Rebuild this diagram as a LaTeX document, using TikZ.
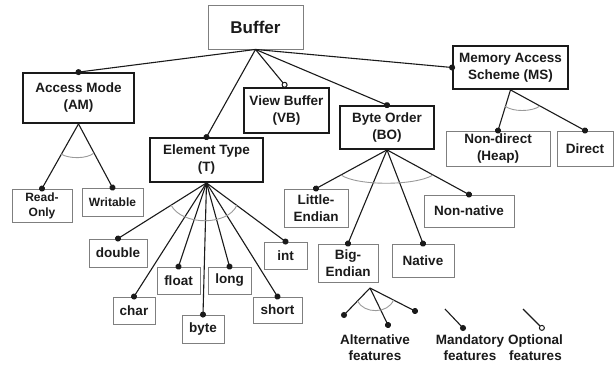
\documentclass[tikz,border=0pt]{standalone}
\usepackage{fontspec}
\setmainfont{Liberation Sans}
\usetikzlibrary{arrows.meta}
\definecolor{trait}{HTML}{1A1A1A}
\definecolor{gristrait}{HTML}{7F7F7F}
\definecolor{arctrait}{HTML}{9A9A9A}

\begin{document}
\begin{tikzpicture}[x=1pt,y=-1pt]
\tikzset{fortnoeud/.style={draw=trait, line width=1.8pt, inner sep=0pt, align=center, text=trait, font=\bfseries\fontsize{13.5}{17}\selectfont}}
\tikzset{tinoeud/.style={draw=gristrait, line width=0.9pt, inner sep=0pt, align=center, text=trait, font=\bfseries\fontsize{13.5}{17}\selectfont}}
\tikzset{legende/.style={inner sep=0pt, align=center, text=trait, font=\bfseries\fontsize{13.5}{16}\selectfont}}
\tikzset{lien/.style={draw=trait, line width=1.1pt}}
\tikzset{oblig/.style={lien, -{Circle[length=6pt, width=6pt]}, shorten >=-3pt}}
\tikzset{option/.style={lien, -{Circle[open, length=6pt, width=6pt, line width=1pt]}}}
\tikzset{arcalt/.style={draw=arctrait, line width=0.9pt}}
\useasboundingbox (0,0) rectangle (616,367);
% racine et sous-features
\node[tinoeud, minimum width=95, minimum height=44, font=\bfseries\fontsize{17}{20}\selectfont] (Buffer) at (255.5,27) {Buffer};
\node[fortnoeud, minimum width=111, minimum height=50] (AM) at (78.5,98) {Access Mode\\(AM)};
\node[fortnoeud, minimum width=85, minimum height=45] (VB) at (286.5,110.5) {View Buffer\\(VB)};
\node[fortnoeud, minimum width=113, minimum height=44] (T) at (206.5,160) {Element Type\\(T)};
\node[fortnoeud, minimum width=94, minimum height=43] (BO) at (387,127.5) {Byte Order\\(BO)};
\node[fortnoeud, minimum width=115, minimum height=43] (MS) at (510.5,67.5) {Memory Access\\Scheme (MS)};
% feuilles
\node[tinoeud, minimum width=60, minimum height=33, font=\bfseries\fontsize{12}{15}\selectfont] (RO) at (42,205.5) {Read-\\Only};
\node[tinoeud, minimum width=61, minimum height=28, font=\bfseries\fontsize{12}{15}\selectfont] (WR) at (112.5,202) {Writable};
\node[tinoeud, minimum width=58, minimum height=28] (double) at (118,253) {double};
\node[tinoeud, minimum width=42, minimum height=27] (char) at (134,310.5) {char};
\node[tinoeud, minimum width=43, minimum height=27] (float) at (178.5,280.5) {float};
\node[tinoeud, minimum width=42, minimum height=28] (byte) at (203,329) {byte};
\node[tinoeud, minimum width=43, minimum height=27] (long) at (229.5,280.5) {long};
\node[tinoeud, minimum width=49, minimum height=26] (short) at (277.5,310) {short};
\node[tinoeud, minimum width=43, minimum height=27] (int) at (285.5,255.5) {int};
\node[tinoeud, minimum width=64, minimum height=38] (LE) at (316,208) {Little-\\Endian};
\node[tinoeud, minimum width=60, minimum height=38] (BE) at (348,263) {Big-\\Endian};
\node[tinoeud, minimum width=62, minimum height=33] (NA) at (423,260.5) {Native};
\node[tinoeud, minimum width=90, minimum height=32] (NN) at (469,211) {Non-native};
\node[tinoeud, minimum width=104, minimum height=35] (ND) at (498,148.5) {Non-direct\\(Heap)};
\node[tinoeud, minimum width=56, minimum height=35] (DI) at (585,148.5) {Direct};
% liens
\draw[oblig] (Buffer.south) -- (AM.north);
\draw[oblig] (Buffer.south) -- (T.north);
\draw[option] (Buffer.south) -- (VB.north);
\draw[oblig] (Buffer.south) -- (BO.north);
\draw[oblig] (Buffer.south) -- (MS.west);
\draw[oblig] (AM.south) -- (RO.north);
\draw[oblig] (AM.south) -- (WR.north);
\draw[oblig] (T.south) -- (double.north);
\draw[oblig] (T.south) -- (char.north);
\draw[oblig] (T.south) -- (float.north);
\draw[oblig] (T.south) -- (byte.north);
\draw[oblig] (T.south) -- (long.north);
\draw[oblig] (T.south) -- (short.north);
\draw[oblig] (T.south) -- (int.north);
\draw[oblig] (BO.south) -- (LE.north);
\draw[oblig] (BO.south) -- (BE.north);
\draw[oblig] (BO.south) -- (NA.north);
\draw[oblig] (BO.south) -- (NN.north);
\draw[oblig] (MS.south) -- (ND.north);
\draw[oblig] (MS.south) -- (DI.north);
% arcs des alternatives
\draw[arcalt] (61,154) .. controls (69,159) and (87,159) .. (94,153);
\draw[arcalt] (171,205) .. controls (182,226) and (228,226) .. (237,205);
\draw[arcalt] (341,175) .. controls (357,186) and (415,186) .. (433,175);
\draw[arcalt] (505,106) .. controls (512,112) and (532,112) .. (540,106);
% legende
\coordinate (alt) at (370,288);
\coordinate (alt1) at (344,315);
\coordinate (alt2) at (388,325);
\coordinate (alt3) at (415,311);
\draw[oblig] (alt) -- (alt1);
\draw[oblig] (alt) -- (alt2);
\draw[oblig] (alt) -- (alt3);
\draw[arcalt] (357.5,301) .. controls (364,314) and (388,314) .. (393.5,300);
\coordinate (mand0) at (445,309);
\coordinate (mand1) at (463,328);
\draw[oblig] (mand0) -- (mand1);
\coordinate (opt0) at (523,309);
\coordinate (opt1) at (544,330);
\draw[option] (opt0) -- (opt1);
\node[legende] (altlab) at (375,348) {Alternative\\features};
\node[legende] (mandlab) at (470,348) {Mandatory\\features};
\node[legende] (optlab) at (535.5,348) {Optional\\features};
\end{tikzpicture}
\end{document}
